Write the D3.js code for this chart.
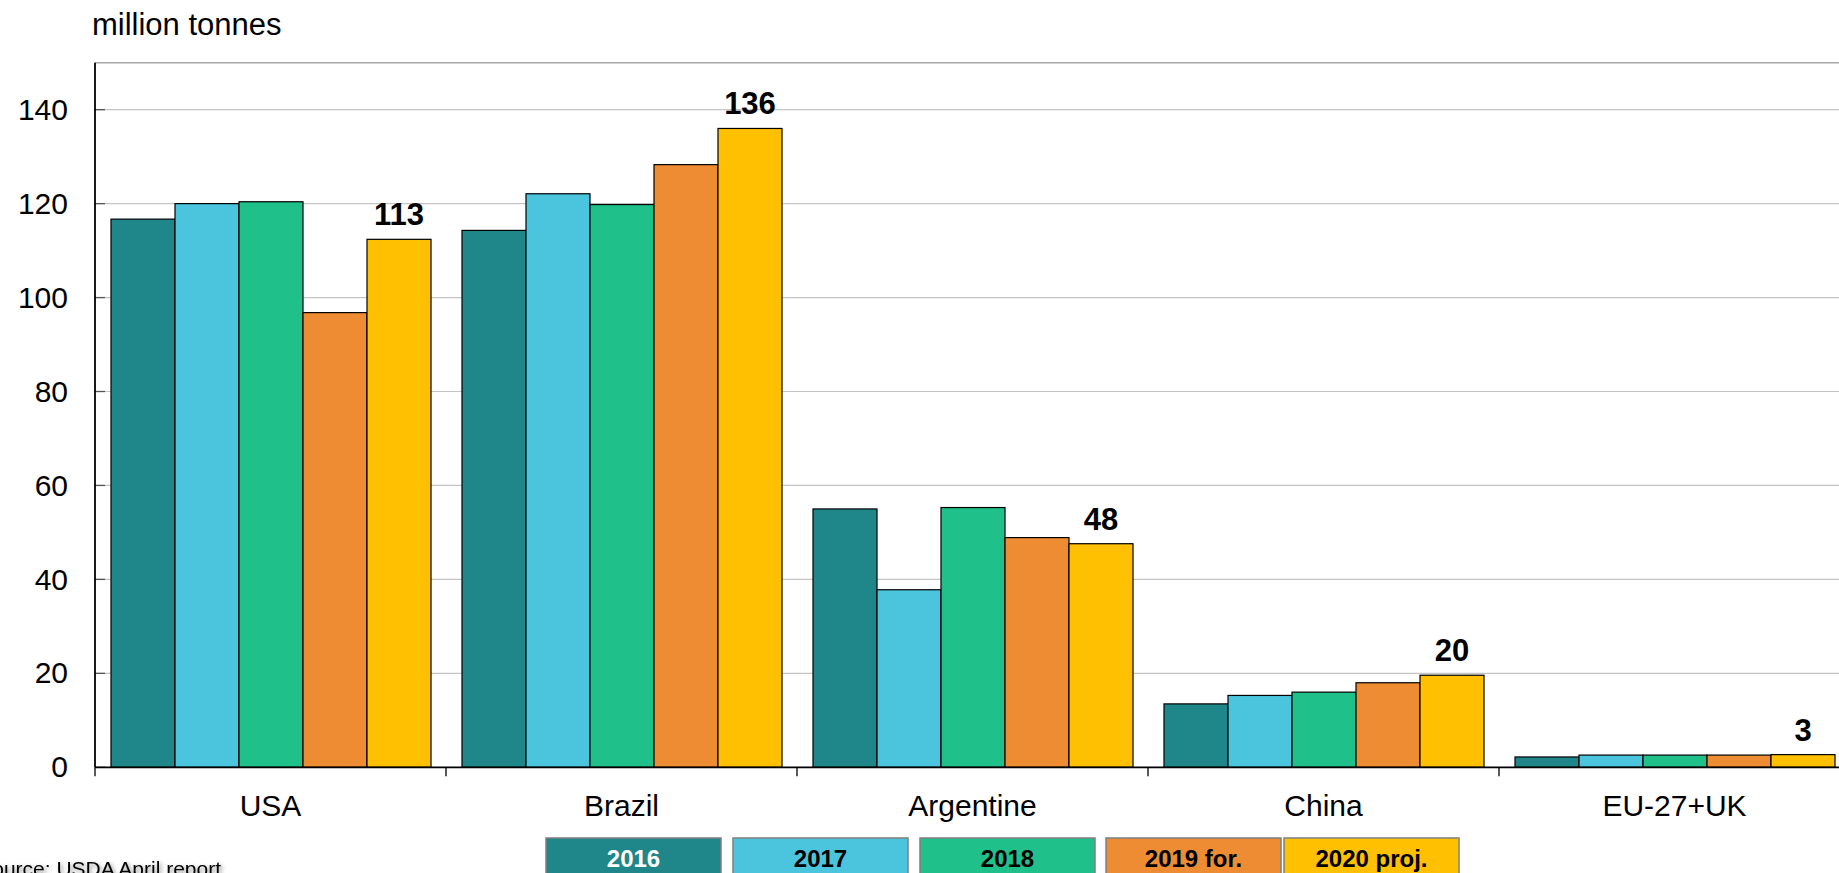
<!DOCTYPE html>
<html>
<head>
<meta charset="utf-8">
<script src="https://cdn.jsdelivr.net/npm/d3@7"></script>
<style>
  html, body { margin: 0; padding: 0; background: #fff; overflow: hidden; }
  svg { display: block; font-family: "Liberation Sans", Arial, sans-serif; }
</style>
</head>
<body>
<svg id="chart" width="1839" height="873"></svg>
<script>
const categories = ["USA", "Brazil", "Argentine", "China", "EU-27+UK"];
const seriesNames = ["2016", "2017", "2018", "2019 for.", "2020 proj."];
const values2016 = [116.7, 114.3, 55.0, 13.5, 2.2];
const values2017 = [120.0, 122.1, 37.8, 15.3, 2.6];
const values2018 = [120.4, 119.8, 55.3, 16.0, 2.6];
const values2019 = [96.8, 128.3, 48.9, 18.0, 2.6];
const values2020 = [112.4, 136.0, 47.6, 19.6, 2.7];
const labels2020 = ["113", "136", "48", "20", "3"];
const yTicks = [0, 20, 40, 60, 80, 100, 120, 140];
const colors = ["#1f8789", "#4bc5dd", "#20c08a", "#ed8c32", "#fec000"];
const legendTextColors = ["#ffffff", "#000000", "#000000", "#000000", "#000000"];
const unitLabel = "million tonnes";
const sourceLabel = "Source: USDA April report";

const allSeries = [values2016, values2017, values2018, values2019, values2020];

const svg = d3.select("#chart");
const mLeft = 95, mRight = 1850, mTop = 62.7, mBottom = 767.3;

const x0 = d3.scaleBand().domain(categories).range([mLeft, mRight]).padding(0);
const x1 = d3.scaleBand().domain(seriesNames).range([16, x0.bandwidth() - 15]).padding(0);
const y = d3.scaleLinear().domain([0, 150]).range([mBottom, mTop]);

// gridlines
svg.append("g").selectAll("line").data(yTicks.filter(d => d > 0)).join("line")
  .attr("x1", mLeft).attr("x2", mRight)
  .attr("y1", d => y(d)).attr("y2", d => y(d))
  .attr("stroke", "#c4c4c4").attr("stroke-width", 1.2);
// top frame
svg.append("line").attr("x1", mLeft).attr("x2", mRight)
  .attr("y1", y(150)).attr("y2", y(150))
  .attr("stroke", "#a6a6a6").attr("stroke-width", 1.5);

// bars
const groups = svg.append("g").selectAll("g").data(categories).join("g")
  .attr("transform", d => `translate(${x0(d)},0)`);
groups.selectAll("rect")
  .data((c, ci) => seriesNames.map((s, si) => ({ s, si, v: allSeries[si][ci] })))
  .join("rect")
  .attr("x", d => x1(d.s))
  .attr("width", x1.bandwidth())
  .attr("y", d => y(d.v))
  .attr("height", d => y(0) - y(d.v))
  .attr("fill", d => colors[d.si])
  .attr("stroke", "#000").attr("stroke-width", 1.2);

// value labels on 2020
svg.append("g").selectAll("text").data(categories).join("text")
  .attr("x", (c) => x0(c) + x1(seriesNames[4]) + x1.bandwidth() / 2)
  .attr("y", (c, i) => y(values2020[i]) - 14)
  .attr("text-anchor", "middle")
  .attr("font-size", 31).attr("font-weight", "bold").attr("fill", "#000")
  .text((c, i) => labels2020[i]);

// y axis
const yAxis = d3.axisLeft(y).tickValues(yTicks).tickSize(0).tickPadding(27);
const gy = svg.append("g").attr("transform", `translate(${mLeft},0)`).call(yAxis);
gy.select(".domain").remove();
gy.selectAll("text").attr("font-size", 30).attr("fill", "#000")
  .attr("font-family", "'Liberation Sans', Arial, sans-serif");
svg.append("g").selectAll("line").data(yTicks).join("line")
  .attr("x1", mLeft).attr("x2", mLeft + 10)
  .attr("y1", d => y(d)).attr("y2", d => y(d))
  .attr("stroke", "#555").attr("stroke-width", 1.3);
svg.append("line").attr("x1", mLeft).attr("x2", mLeft)
  .attr("y1", y(150)).attr("y2", y(0))
  .attr("stroke", "#000").attr("stroke-width", 1.8);

// x axis
const xAxis = d3.axisBottom(x0).tickSize(0).tickPadding(27);
const gx = svg.append("g").attr("transform", `translate(0,${mBottom})`).call(xAxis);
gx.select(".domain").remove();
gx.selectAll("text").attr("font-size", 30).attr("fill", "#000")
  .attr("font-family", "'Liberation Sans', Arial, sans-serif");
svg.append("line").attr("x1", mLeft).attr("x2", mRight)
  .attr("y1", y(0)).attr("y2", y(0))
  .attr("stroke", "#000").attr("stroke-width", 1.8);
svg.append("g").selectAll("line").data(categories).join("line")
  .attr("x1", d => x0(d)).attr("x2", d => x0(d))
  .attr("y1", y(0)).attr("y2", y(0) + 9)
  .attr("stroke", "#000").attr("stroke-width", 1.3);

// unit label
svg.append("text").attr("x", 92).attr("y", 35)
  .attr("font-size", 31).attr("fill", "#000").text(unitLabel);

// legend
const legendX = [546, 733, 920, 1106, 1284];
const legend = svg.append("g").selectAll("g").data(seriesNames).join("g")
  .attr("transform", (d, i) => `translate(${legendX[i]},838)`);
legend.append("rect").attr("width", 175).attr("height", 44)
  .attr("fill", (d, i) => colors[i]).attr("stroke", "#7f7f7f").attr("stroke-width", 1.5);
legend.append("text").attr("x", 87.5).attr("y", 29)
  .attr("text-anchor", "middle").attr("font-size", 24).attr("font-weight", "bold")
  .attr("fill", (d, i) => legendTextColors[i]).text(d => d);

// source
svg.append("text").attr("x", 221).attr("y", 876)
  .attr("text-anchor", "end").attr("font-size", 21).attr("fill", "#000")
  .style("filter", "drop-shadow(2px 2px 2px rgba(0,0,0,0.45))")
  .text(sourceLabel);
</script>
</body>
</html>
